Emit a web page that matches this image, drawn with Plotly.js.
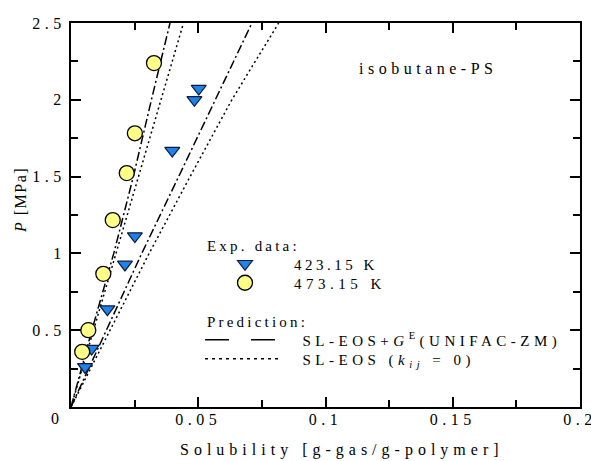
<!DOCTYPE html>
<html>
<head>
<meta charset="utf-8">
<script src="https://cdn.plot.ly/plotly-3.0.1.min.js"></script>
<style>
  body { margin: 0; padding: 0; background: #fff; }
  #chart { width: 591px; height: 461px; }
  svg text { letter-spacing: 4.5px; }
  svg text.legendtext { letter-spacing: 3.5px; }
</style>
</head>
<body>
<div id="chart"></div>
<script>
// Experimental data
const tempLabels = ['423.15 K', '473.15 K'];
const solub423 = [0.0502, 0.0485, 0.0398, 0.0251, 0.0212, 0.0143, 0.0081, 0.0055];
const press423 = [2.073, 2.000, 1.669, 1.113, 0.928, 0.637, 0.380, 0.261];
const solub473 = [0.0326, 0.0251, 0.0219, 0.0164, 0.0127, 0.0068, 0.0044];
const press473 = [2.239, 1.782, 1.523, 1.217, 0.867, 0.500, 0.359];

// Predictions
const predP = [0, 0.5, 1.0, 1.5, 2.0, 2.5];
const geX423 = [0, 0.0140, 0.0278, 0.0423, 0.0566, 0.0711];
const slX423 = [0, 0.0155, 0.0307, 0.0468, 0.0632, 0.0816];
const geX473 = [0, 0.0082, 0.0168, 0.0245, 0.0316, 0.0389];
const slX473 = [0, 0.0088, 0.0178, 0.0265, 0.0353, 0.0442];
const predLabels = ['SL-EOS+<i>G</i><sup>E</sup>(UNIFAC-ZM)', 'SL-EOS (<i>k</i><sub><i>ij</i></sub> = 0)'];

// Axis ticks
const xTickVals = [0.05, 0.1, 0.15, 0.2];
const xTickText = ['0.05', '0.1', '0.15', '0.2'];
const yTickVals = [0.5, 1, 1.5, 2, 2.5];
const yTickText = ['0.5', '1', '1.5', '2', '2.5'];

const FONT = '"Liberation Serif", "Times New Roman", serif';
const NB = '\u00a0\u00a0';
const geDash = '9px,3px,2px,3px';
const slDash = '2px,3px';

const lineStyleGE = {color: '#000', width: 1.5, dash: geDash};
const lineStyleSL = {color: '#000', width: 1.5, dash: slDash};

const traces = [
  {x: geX423, y: predP, mode: 'lines', line: lineStyleGE, showlegend: false, hoverinfo: 'skip'},
  {x: slX423, y: predP, mode: 'lines', line: lineStyleSL, showlegend: false, hoverinfo: 'skip'},
  {x: geX473, y: predP, mode: 'lines', line: lineStyleGE, showlegend: false, hoverinfo: 'skip'},
  {x: slX473, y: predP, mode: 'lines', line: lineStyleSL, showlegend: false, hoverinfo: 'skip'},
  {x: solub423, y: press423, mode: 'markers', name: tempLabels[0], legend: 'legend',
   marker: {symbol: 'triangle-down', size: 13, color: '#1f82e6', line: {color: '#0a1a40', width: 1.2}}},
  {x: solub473, y: press473, mode: 'markers', name: tempLabels[1], legend: 'legend2',
   marker: {symbol: 'circle', size: 15, color: '#ffff88', line: {color: '#000', width: 1.3}}},
  {x: [null], y: [null], mode: 'lines', name: NB + predLabels[0], legend: 'legend3',
   line: {color: '#000', width: 1.5, dash: '24px,22px'}},
  {x: [null], y: [null], mode: 'lines', name: NB + predLabels[1], legend: 'legend4',
   line: {color: '#000', width: 1.5, dash: '3px,4px'}}
];

const axisCommon = {
  showgrid: false, zeroline: false, showline: true, linecolor: '#000', linewidth: 2,
  mirror: 'ticks', ticks: 'inside', tickcolor: '#000', tickwidth: 2, ticklen: 10,
  tickfont: {family: FONT, size: 16, color: '#000'}, fixedrange: true,
  ticklabeloverflow: 'allow'
};

function legendAt(xpx, ypx, w) {
  return {
    x: (xpx - 71) / 509, y: (407 - ypx) / 384, xanchor: 'left', yanchor: 'middle',
    bgcolor: 'rgba(0,0,0,0)', borderwidth: 0, itemwidth: w, tracegroupgap: 0,
    font: {family: FONT, size: 15, color: '#000'}, itemclick: false, itemdoubleclick: false
  };
}

function spaced(txt, px) {
  return '<span style="letter-spacing:' + px + 'px">' + txt + '</span>';
}

const layout = {
  width: 591, height: 461,
  margin: {l: 71, r: 11, t: 23, b: 54},
  paper_bgcolor: '#fff', plot_bgcolor: '#fff',
  font: {family: FONT, size: 16, color: '#000'},
  xaxis: Object.assign({}, axisCommon, {
    range: [0, 0.2], tickmode: 'array', tickvals: xTickVals, ticktext: xTickText,
    ticklabelstandoff: -3,
    minor: {ticks: 'inside', dtick: 0.025, tick0: 0, ticklen: 7, tickwidth: 2, tickcolor: '#000'}
  }),
  yaxis: Object.assign({}, axisCommon, {
    range: [0, 2.5], tickmode: 'array', tickvals: yTickVals, ticktext: yTickText,
    minor: {ticks: 'inside', dtick: 0.25, tick0: 0, ticklen: 7, tickwidth: 2, tickcolor: '#000'}
  }),
  legend: legendAt(196, 264, 88),
  legend2: legendAt(196, 283, 88),
  legend3: legendAt(200, 340, 76),
  legend4: legendAt(200, 359, 76),
  annotations: [
    {text: 'isobutane-PS', xref: 'paper', yref: 'paper', x: (428 - 71) / 509, y: (407 - 68) / 384,
     xanchor: 'center', yanchor: 'middle', showarrow: false, font: {family: FONT, size: 16}},
    {text: spaced('Exp. data:', 3.2), xref: 'paper', yref: 'paper', x: (205 - 71) / 509, y: (407 - 246) / 384,
     xanchor: 'left', yanchor: 'middle', showarrow: false, font: {family: FONT, size: 15}},
    {text: spaced('Prediction:', 3.2), xref: 'paper', yref: 'paper', x: (205 - 71) / 509, y: (407 - 322) / 384,
     xanchor: 'left', yanchor: 'middle', showarrow: false, font: {family: FONT, size: 15}},
    {text: spaced('Solubility [g-gas/g-polymer]', 5), xref: 'paper', yref: 'paper', x: (342 - 71) / 509, y: (407 - 450) / 384,
     xanchor: 'center', yanchor: 'middle', showarrow: false, font: {family: FONT, size: 16}},
    {text: spaced('<i>P</i> [MPa]', 1.5), xref: 'paper', yref: 'paper', x: (20 - 71) / 509, y: (407 - 200) / 384,
     xanchor: 'center', yanchor: 'middle', textangle: -90, showarrow: false, font: {family: FONT, size: 16}},
    {text: '0', xref: 'paper', yref: 'paper', x: (57 - 71) / 509, y: (407 - 418) / 384,
     xanchor: 'center', yanchor: 'middle', showarrow: false, font: {family: FONT, size: 16}}
  ]
};

Plotly.newPlot('chart', traces, layout, {displayModeBar: false, staticPlot: true});
</script>
</body>
</html>
